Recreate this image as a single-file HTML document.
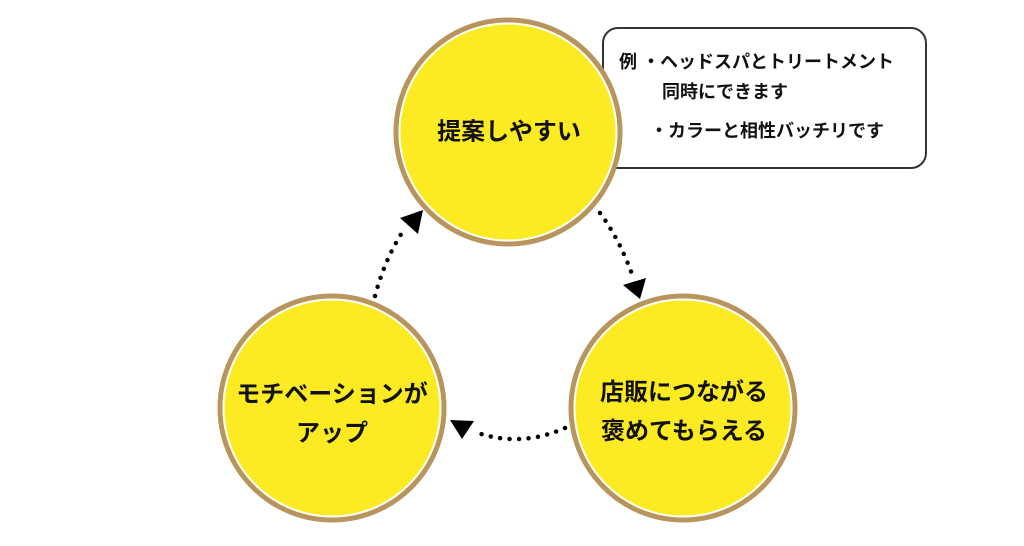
<!DOCTYPE html>
<html><head><meta charset="utf-8"><style>
html,body{margin:0;padding:0;background:#fff;}
body{width:1024px;height:546px;position:relative;overflow:hidden;font-family:"Liberation Sans","Noto Sans CJK JP",sans-serif;font-weight:bold;color:#111;}
.box{position:absolute;left:602px;top:27px;width:325px;height:142px;border:2px solid #333;border-radius:16px;box-sizing:border-box;}
.t{position:absolute;white-space:nowrap;font-size:18px;line-height:20px;}
svg{position:absolute;left:0;top:0;}
.c{position:absolute;text-align:center;white-space:nowrap;font-size:24px;line-height:39px;transform:translate(-50%,-50%);}
</style></head><body>
<div class="box"></div>
<div class="t" style="left:619px;top:52px;">例 ・ヘッドスパとトリートメント</div>
<div class="t" style="left:662px;top:82px;">同時にできます</div>
<div class="t" style="left:650px;top:121px;">・カラーと相性バッチリです</div>
<svg width="1024" height="546">
<g stroke="#b8955e" stroke-width="5" fill="#fcea22">
<circle cx="508" cy="132" r="112"/>
<circle cx="332" cy="408" r="112"/>
<circle cx="683" cy="408" r="112"/>
</g>
<g stroke="#fff" stroke-width="2" fill="none">
<circle cx="508" cy="132" r="108.5"/>
<circle cx="332" cy="408" r="108.5"/>
<circle cx="683" cy="408" r="108.5"/>
</g>
<g stroke="#000" stroke-width="4.5" stroke-linecap="round" stroke-dasharray="0 9.5" fill="none">
<path d="M375 296 Q385 258 405 228"/>
<path d="M600 213 Q620 240 633 277"/>
<path d="M565 428 Q520 448 475 432"/>
</g>
<g fill="#000">
<polygon points="400,218 423,210 418,234"/>
<polygon points="623,285 646,278 640,299"/>
<polygon points="450,420 474,421 462,439"/>
</g>
</svg>
<div class="c" style="left:509px;top:132px;">提案しやすい</div>
<div class="c" style="left:332px;top:414px;">モチベーションが<br>アップ</div>
<div class="c" style="left:684px;top:412px;">店販につながる<br>褒めてもらえる</div>
</body></html>
